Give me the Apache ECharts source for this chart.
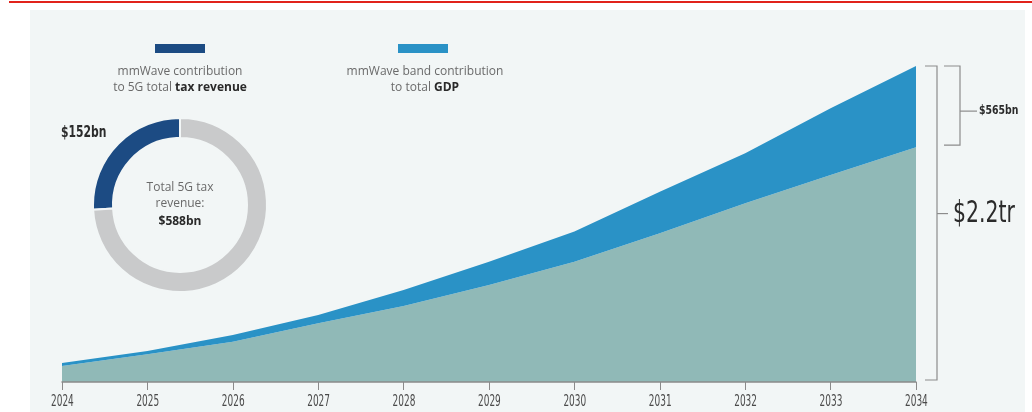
<!DOCTYPE html>
<html>
<head>
<meta charset="utf-8">
<script src="https://cdn.jsdelivr.net/npm/echarts@6/dist/echarts.min.js"></script>
<style>
  html, body { margin: 0; padding: 0; background: #ffffff; }
  #chart { width: 1032px; height: 412px; }
</style>
</head>
<body>
<div id="chart"></div>
<script>
// Years on the horizontal axis
const years = ['2024', '2025', '2026', '2027', '2028', '2029', '2030', '2031', '2032', '2033', '2034'];
// GDP contribution, $bn: other 5G bands (lower layer) and mmWave band (upper layer)
const gdpOtherBands = [111, 193, 281, 409, 529, 675, 838, 1035, 1244, 1441, 1635];
const gdpMmWave = [21, 23, 46, 58, 112, 163, 209, 290, 348, 465, 565];
// 5G tax revenue, $bn
const taxMmWave = 152;
const taxTotal = 588;

const C_TEAL = '#90b9b7';
const C_BLUE = '#2a92c6';
const C_NAVY = '#1c4b83';
const C_GREY = '#c9cacb';
const NARROW = '"DejaVu Sans", sans-serif';
const BODY = '"Open Sans", "Noto Sans", sans-serif';

const chart = echarts.init(document.getElementById('chart'), null, { renderer: 'canvas' });

// condensed text helper: squeezes the glyphs horizontally
function narrowText(x, y, text, size, weight, align, squeeze, color) {
  return {
    type: 'text', x: x, y: y, scaleX: squeeze, scaleY: 1,
    style: { text: text, align: align, verticalAlign: 'middle', fill: color || '#2b2b2b',
      font: weight + ' ' + size + 'px ' + NARROW }
  };
}

const baseGraphics = [
  { type: 'rect', z: -10, silent: true, shape: { x: 30, y: 10, width: 995, height: 402 }, style: { fill: '#f2f6f6' } },
  { type: 'rect', shape: { x: 9, y: 1, width: 1023, height: 2 }, style: { fill: '#e1231b' } },
  // legend swatches
  { type: 'rect', shape: { x: 155, y: 44, width: 50, height: 9 }, style: { fill: C_NAVY } },
  { type: 'rect', shape: { x: 398, y: 44, width: 50, height: 9 }, style: { fill: C_BLUE } },
  {
    type: 'text', x: 180, y: 80,
    style: {
      text: 'mmWave contribution\n{n|to 5G total }{b|tax revenue}',
      align: 'center', verticalAlign: 'middle', fill: '#6a6a6a',
      font: '12px ' + BODY, lineHeight: 16,
      rich: {
        n: { fill: '#6a6a6a', fontSize: 12, fontFamily: BODY, lineHeight: 16 },
        b: { fill: '#2a2a2a', fontSize: 12, fontWeight: 'bold', fontFamily: BODY, lineHeight: 16 }
      }
    }
  },
  {
    type: 'text', x: 425, y: 80,
    style: {
      text: 'mmWave band contribution\n{n|to total }{b|GDP}',
      align: 'center', verticalAlign: 'middle', fill: '#6a6a6a',
      font: '12px ' + BODY, lineHeight: 16,
      rich: {
        n: { fill: '#6a6a6a', fontSize: 12, fontFamily: BODY, lineHeight: 16 },
        b: { fill: '#2a2a2a', fontSize: 12, fontWeight: 'bold', fontFamily: BODY, lineHeight: 16 }
      }
    }
  },
  // donut labels
  narrowText(61, 133, '$' + taxMmWave + 'bn', 15, 'bold', 'left', 0.72),
  {
    type: 'text', x: 180, y: 206,
    style: {
      text: 'Total 5G tax\nrevenue:\n{b|$' + taxTotal + 'bn}',
      align: 'center', verticalAlign: 'middle', fill: '#6a6a6a',
      font: '12px ' + BODY, lineHeight: 16,
      rich: { b: { fill: '#2a2a2a', fontSize: 12, fontWeight: 'bold', fontFamily: BODY, lineHeight: 20 } }
    }
  }
];

chart.setOption({
  backgroundColor: '#ffffff',
  animation: false,
  grid: { left: 62, right: 116, top: 66, bottom: 30 },
  xAxis: {
    type: 'category',
    data: years,
    boundaryGap: false,
    axisLine: { lineStyle: { color: '#8a8a8a', width: 1.5 } },
    axisTick: { alignWithLabel: true, length: 8, lineStyle: { color: '#8a8a8a' } },
    axisLabel: { show: false },
    z: 5
  },
  yAxis: {
    type: 'value', min: 0, max: 2200,
    show: false, splitLine: { show: false }
  },
  series: [
    {
      name: 'Other 5G bands', type: 'line', stack: 'gdp', data: gdpOtherBands,
      symbol: 'none', lineStyle: { width: 0 }, areaStyle: { color: C_TEAL, opacity: 1 }
    },
    {
      name: 'mmWave band', type: 'line', stack: 'gdp', data: gdpMmWave,
      symbol: 'none', lineStyle: { width: 0 }, areaStyle: { color: C_BLUE, opacity: 1 }
    },
    {
      name: '5G tax revenue', type: 'pie',
      center: [180, 205], radius: [67, 87],
      startAngle: 90, clockwise: false,
      label: { show: false }, labelLine: { show: false },
      itemStyle: { borderColor: '#f2f6f6', borderWidth: 2 },
      emphasis: { disabled: true },
      data: [
        { name: 'mmWave', value: taxMmWave, itemStyle: { color: C_NAVY } },
        { name: 'Other bands', value: taxTotal - taxMmWave, itemStyle: { color: C_GREY } }
      ]
    }
  ],
  graphic: baseGraphics
});

// Year labels in a condensed face, set under each axis tick
const yearLabels = years.map(function (yr, i) {
  const p = chart.convertToPixel({ gridIndex: 0 }, [i, 0]);
  return narrowText(p[0] - 11, p[1] + 20, yr, 16, 'normal', 'left', 0.56, '#4a4a4a');
});

// Brackets to the right of the final year, placed from the data through the axes
const last = years.length - 1;
const total = gdpOtherBands[last] + gdpMmWave[last];
const pTop = chart.convertToPixel({ gridIndex: 0 }, [last, total]);
const pMid = chart.convertToPixel({ gridIndex: 0 }, [last, gdpOtherBands[last]]);
const pBase = chart.convertToPixel({ gridIndex: 0 }, [last, 0]);
const xe = pTop[0];
const yT = pTop[1], yM = pMid[1], yB = pBase[1] - 2;
const brk = { stroke: '#8c8c8c', lineWidth: 1.2 };

function bracket(x0, x1, top, bottom) {
  return {
    type: 'polyline', silent: true,
    shape: { points: [[x0, top], [x1, top], [x1, bottom], [x0, bottom]] },
    style: Object.assign({ fill: null }, brk)
  };
}
const bigMid = yT + 0.47 * (yB - yT);
const smallMid = yT + 0.57 * (yM - 2 - yT);

chart.setOption({
  graphic: baseGraphics.concat(yearLabels, [
    bracket(xe + 9, xe + 21, yT, yB),
    { type: 'line', silent: true, shape: { x1: xe + 21, y1: bigMid, x2: xe + 32, y2: bigMid }, style: brk },
    narrowText(xe + 37, bigMid + 1, '$' + (total / 1000).toFixed(1) + 'tr', 30, 'normal', 'left', 0.68),
    bracket(xe + 28, xe + 44, yT, yM - 2),
    { type: 'line', silent: true, shape: { x1: xe + 44, y1: smallMid, x2: xe + 61, y2: smallMid }, style: brk },
    narrowText(xe + 63, smallMid, '$' + gdpMmWave[last] + 'bn', 13, 'bold', 'left', 0.72)
  ])
});
</script>
</body>
</html>
